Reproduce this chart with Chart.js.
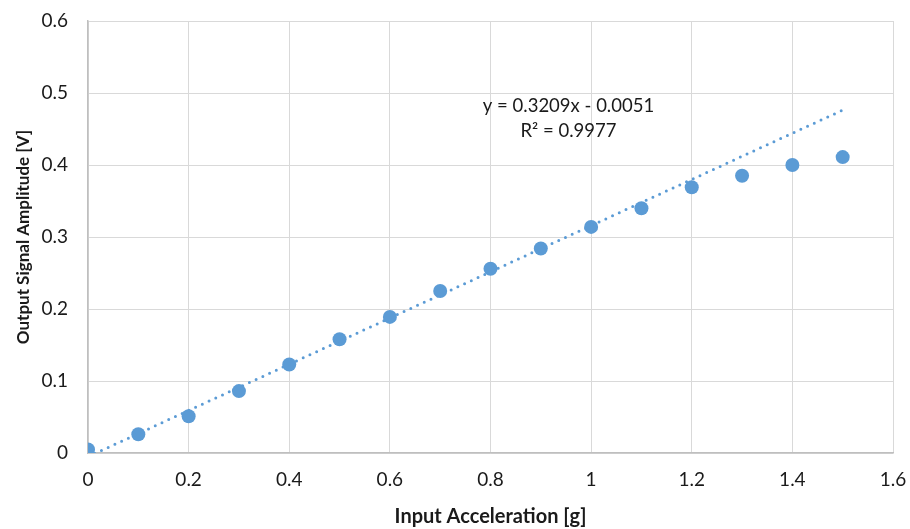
<!DOCTYPE html>
<html>
<head>
<meta charset="utf-8">
<script src="https://cdn.jsdelivr.net/npm/chart.js@4/dist/chart.umd.min.js"></script>
<style>
  html, body { margin: 0; padding: 0; background: #fff; }
  #wrap { width: 910px; height: 529px; }
</style>
</head>
<body>
<div id="wrap"><canvas id="c" width="910" height="529"></canvas></div>
<script>
// Measured response: input acceleration [g] vs output amplitude [V]
const accel = [0, 0.1, 0.2, 0.3, 0.4, 0.5, 0.6, 0.7, 0.8, 0.9, 1.0, 1.1, 1.2, 1.3, 1.4, 1.5];
const amplitude = [0.005, 0.026, 0.051, 0.086, 0.123, 0.158, 0.189, 0.225, 0.256, 0.284, 0.314, 0.340, 0.369, 0.385, 0.400, 0.411];

// Linear fit reported on the chart
const fitSlope = 0.3209;
const fitIntercept = -0.0051;
const fitR2 = 0.9977;
const fitRange = [0, 1.5];

const xTitle = 'Input Acceleration [g]';
const yTitle = 'Output Signal Amplitude [V]';

const blue = '#5B9BD5';
const fontFamily = 'Lato, "Open Sans", sans-serif';

const fitPoints = fitRange.map(x => ({ x: x, y: fitSlope * x + fitIntercept }));
const measured = accel.map((x, i) => ({ x: x, y: amplitude[i] }));

const fmt = v => String(Math.round(v * 10) / 10);

// Equation label placed in data coordinates
const equationLabel = {
  id: 'equationLabel',
  afterDatasetsDraw(chart) {
    const { ctx, scales } = chart;
    const cx = scales.x.getPixelForValue(0.955);
    const y1 = scales.y.getPixelForValue(0.4815);
    const y2 = scales.y.getPixelForValue(0.4465);
    ctx.save();
    ctx.fillStyle = '#1a1a1a';
    ctx.font = '18.5px ' + fontFamily;
    ctx.textAlign = 'center';
    ctx.textBaseline = 'middle';
    ctx.fillText('y = ' + fitSlope.toFixed(4) + 'x - ' + Math.abs(fitIntercept).toFixed(4), cx, y1);
    ctx.fillText('R\u00B2 = ' + fitR2.toFixed(4), cx, y2);
    ctx.restore();
  }
};

// Let the layout padding alone decide the plot area edges
function noLabelOverflow(scale) {
  scale.paddingTop = 0;
  scale.paddingBottom = 0;
  scale.paddingLeft = 0;
  scale.paddingRight = 0;
}

new Chart(document.getElementById('c'), {
  type: 'scatter',
  data: {
    datasets: [
      {
        label: 'Linear fit',
        type: 'line',
        data: fitPoints,
        borderColor: blue,
        borderWidth: 3,
        borderDash: [0, 7.4],
        borderCapStyle: 'round',
        pointRadius: 0,
        tension: 0,
        fill: false,
        order: 0
      },
      {
        label: 'Measured',
        data: measured,
        backgroundColor: blue,
        borderWidth: 0,
        pointRadius: 7,
        pointHoverRadius: 7,
        order: 1
      }
    ]
  },
  options: {
    responsive: false,
    animation: false,
    events: [],
    layout: { padding: { top: 21, right: 17, left: 0, bottom: 0 } },
    plugins: {
      legend: { display: false },
      tooltip: { enabled: false }
    },
    scales: {
      x: {
        type: 'linear',
        min: 0,
        max: 1.6,
        ticks: {
          stepSize: 0.2,
          callback: fmt,
          color: '#1a1a1a',
          font: { family: fontFamily, size: 19 },
          padding: 15,
          maxRotation: 0
        },
        grid: { color: '#d9d9d9', lineWidth: 1, drawTicks: false },
        border: { color: '#bfbfbf', width: 1.5 },
        title: {
          display: true,
          text: xTitle,
          color: '#1a1a1a',
          font: { family: fontFamily, size: 20, weight: 'bold' },
          padding: { top: 8, bottom: 0 }
        },
        afterFit(scale) { scale.height = 76; noLabelOverflow(scale); }
      },
      y: {
        type: 'linear',
        min: 0,
        max: 0.6,
        ticks: {
          stepSize: 0.1,
          callback: fmt,
          color: '#1a1a1a',
          font: { family: fontFamily, size: 19 },
          padding: 20
        },
        grid: { color: '#d9d9d9', lineWidth: 1, drawTicks: false },
        border: { color: '#bfbfbf', width: 1.5 },
        title: {
          display: true,
          text: yTitle,
          color: '#1a1a1a',
          font: { family: fontFamily, size: 17, weight: 'bold' },
          padding: { top: 13, bottom: 0 }
        },
        afterFit(scale) { scale.width = 88; noLabelOverflow(scale); }
      }
    }
  },
  plugins: [equationLabel]
});
</script>
</body>
</html>
